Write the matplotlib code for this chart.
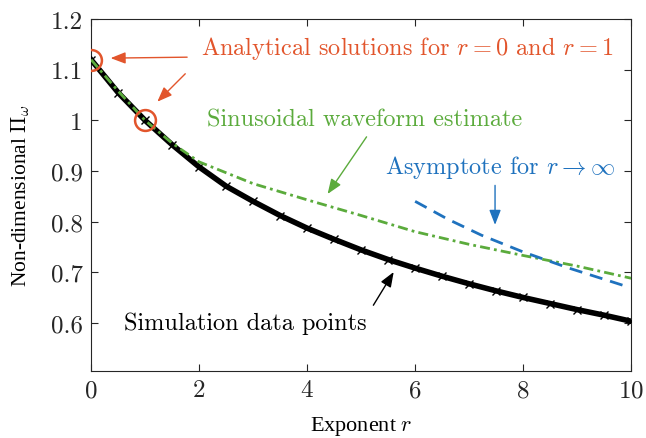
import matplotlib
matplotlib.use("Agg")
import matplotlib.pyplot as plt

# simulation data
r_sim = [0, 0.5, 1, 1.5, 2, 2.5, 3, 3.5, 4, 4.5, 5, 5.5, 6, 6.5, 7, 7.5, 8, 8.5, 9, 9.5, 10]
pi_sim = [1.12, 1.055, 1.0, 0.952, 0.908, 0.870, 0.840, 0.812, 0.787, 0.765, 0.744,
          0.725, 0.708, 0.692, 0.677, 0.663, 0.650, 0.638, 0.626, 0.615, 0.603]

# sinusoidal waveform estimate
r_sin = [0, 0.5, 1, 1.5, 2, 3, 4, 5, 6, 7, 8, 9, 10]
pi_sin = [1.12, 1.058, 1.0, 0.955, 0.918, 0.875, 0.843, 0.812, 0.780, 0.755, 0.733, 0.712, 0.688]

# asymptote for r -> inf
r_asy = [6.0, 6.6, 7.23, 8.0, 8.85, 9.85]
pi_asy = [0.840, 0.805, 0.773, 0.740, 0.708, 0.674]

# analytical solutions
r_ana = [0, 1]
pi_ana = [1.12, 1.0]

xticks = [0, 2, 4, 6, 8, 10]
yticks = [0.6, 0.7, 0.8, 0.9, 1.0, 1.1, 1.2]
ytick_labels = ['0.6', '0.7', '0.8', '0.9', '1', '1.1', '1.2']

red = '#e2552c'
green = '#5bab3c'
blue = '#1f72be'

plt.rcParams['font.family'] = 'cmr10'
plt.rcParams['mathtext.fontset'] = 'cm'
plt.rcParams['axes.formatter.use_mathtext'] = True

fig = plt.figure(figsize=(6.46, 4.39), dpi=100)
ax = fig.add_axes([0.141, 0.153, 0.836, 0.801])

ax.plot(r_sim, pi_sim, color='black', lw=4.0, marker='x', ms=6, mew=1.0, zorder=3)
ax.plot(r_sin, pi_sin, color=green, lw=2.0, dashes=(3.6, 1.5, 1.0, 1.5), zorder=4)
ax.plot(r_asy, pi_asy, color=blue, lw=2.0, dashes=(4.7, 2.9), zorder=4)
ax.plot(r_ana, pi_ana, 'o', mfc='none', mec=red, ms=15, mew=1.8, zorder=5)

ax.set_xlim(0, 10)
ax.set_ylim(0.505, 1.2)
ax.set_xticks(xticks)
ax.set_yticks(yticks)
ax.set_yticklabels(ytick_labels)
ax.tick_params(direction='in', top=True, right=True, length=5, width=0.8,
               labelsize=18, colors='#262626', pad=6)
for s in ax.spines.values():
    s.set_color('#262626')
    s.set_linewidth(0.8)

ax.set_xlabel('Exponent $r$', fontsize=16, family='Liberation Serif', labelpad=9)
ax.set_ylabel(r'Non-dimensional $\Pi_\omega$', fontsize=15.5, family='Liberation Serif', labelpad=13)

arrow = '-|>,head_length=0.9,head_width=0.35'

# annotations
ax.text(5.85, 1.145, 'Analytical solutions for $r = 0$ and $r = 1$', color=red,
        fontsize=17.5, ha='center', va='center')
ax.annotate('', xy=(0.31, 1.123), xytext=(1.83, 1.125),
            arrowprops=dict(arrowstyle=arrow, color=red, lw=1.0))
ax.annotate('', xy=(1.19, 1.033), xytext=(1.78, 1.096),
            arrowprops=dict(arrowstyle=arrow, color=red, lw=1.0))

ax.text(5.07, 1.002, 'Sinusoidal waveform estimate', color=green,
        fontsize=17.5, ha='center', va='center')
ax.annotate('', xy=(4.35, 0.85), xytext=(5.13, 0.972),
            arrowprops=dict(arrowstyle=arrow, color=green, lw=1.0))

ax.text(7.57, 0.909, r'Asymptote for $r \rightarrow \infty$', color=blue,
        fontsize=17.5, ha='center', va='center')
ax.annotate('', xy=(7.48, 0.788), xytext=(7.48, 0.877),
            arrowprops=dict(arrowstyle=arrow, color=blue, lw=1.0))

ax.text(2.85, 0.6, 'Simulation data points', color='black',
        fontsize=17.5, ha='center', va='center')
ax.annotate('', xy=(5.63, 0.705), xytext=(5.2, 0.63),
            arrowprops=dict(arrowstyle=arrow, color='black', lw=1.0))

fig.savefig('out.png', dpi=100)
